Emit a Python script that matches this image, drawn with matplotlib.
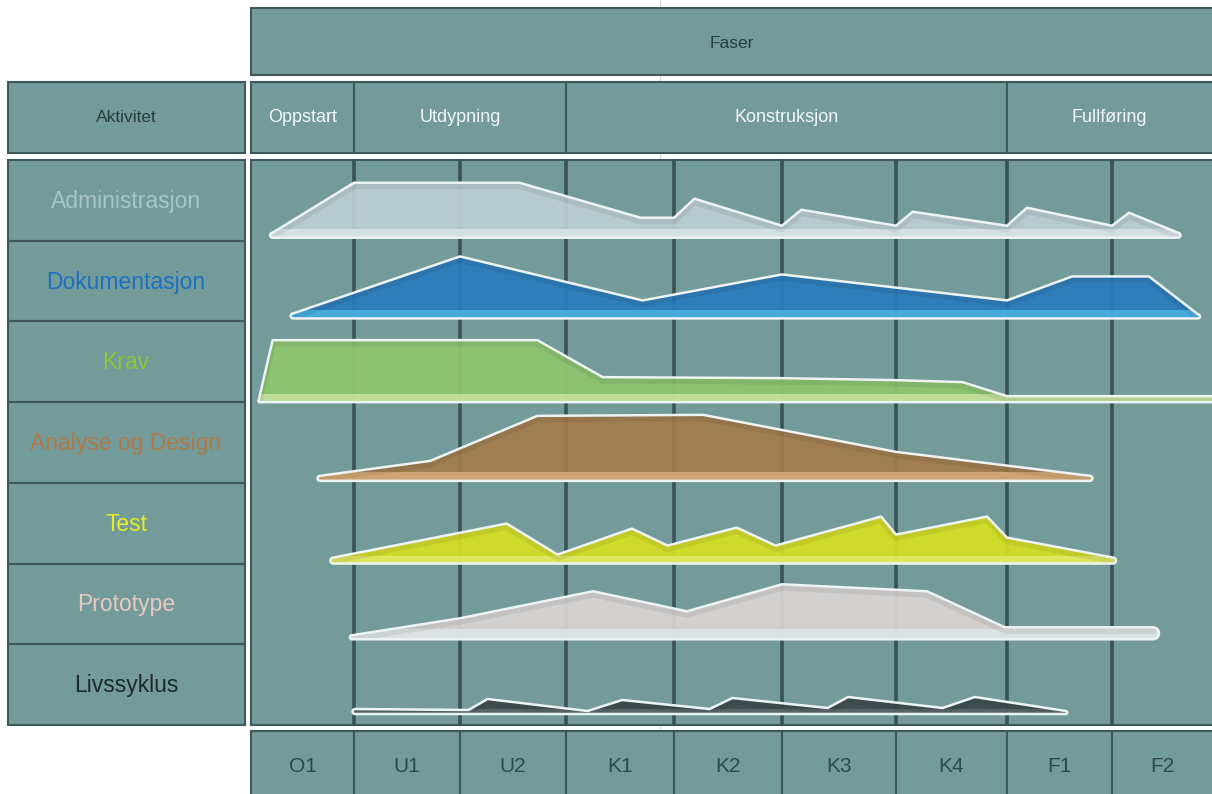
import numpy as np
import matplotlib
matplotlib.use('Agg')
import matplotlib.pyplot as plt
from matplotlib.patches import Rectangle, Polygon

plt.rcParams['font.family'] = ['Liberation Sans', 'DejaVu Sans']

# --- data -----------------------------------------------------------------
phases = ['Oppstart', 'Utdypning', 'Konstruksjon', 'Fullføring']
phase_iters = [1, 2, 4, 2]
iterations = ['O1', 'U1', 'U2', 'K1', 'K2', 'K3', 'K4', 'F1', 'F2']
activities = ['Administrasjon', 'Dokumentasjon', 'Krav', 'Analyse og Design',
              'Test', 'Prototype', 'Livssyklus']
label_colors = ['#A9C5C8', '#1D6FC1', '#8DC63F', '#AD7A48',
                '#E4EC22', '#EAC9C1', '#1E2A2A']

# hump profiles: position in iteration units, height (px above baseline)
admin_x = [0.21, 1.0, 2.56, 3.69, 4.0, 4.19, 5.0, 5.17, 6.0, 6.15, 7.0, 7.19, 8.0, 8.17, 8.66]
admin_h = [5, 55, 55, 20, 20, 39, 12, 28, 12, 26, 12, 30, 12, 25, 5]
dok_x = [0.41, 2.0, 3.71, 5.0, 7.0, 7.62, 8.37, 8.86]
dok_h = [5, 62, 18, 44, 18, 42, 42, 4]
krav_x = [0.07, 0.21, 2.73, 3.34, 5.0, 6.0, 6.6, 7.0, 9.0]
krav_h = [0, 62, 62, 25, 24, 22, 20, 6, 6]
analyse_x = [0.67, 1.72, 2.73, 4.27, 6.0, 7.79]
analyse_h = [5, 20, 65, 66, 29, 5]
test_x = [0.80, 2.44, 2.92, 3.61, 3.94, 4.58, 4.94, 5.87, 6.0, 6.82, 7.0, 8.01]
test_h = [6, 40, 9, 35, 18, 36, 18, 47, 29, 47, 26, 6]
proto_x = [0.98, 2.0, 3.25, 4.12, 5.0, 6.28, 6.98, 8.41]
proto_h = [4, 21, 48, 28, 55, 48, 12, 12]
livs_x = [1.01, 2.08, 2.26, 3.20, 3.52, 4.33, 4.54, 5.40, 5.58, 6.42, 6.71, 7.56]
livs_h = [5, 4, 15, 3, 14, 5, 16, 6, 17, 6, 17, 3]

hump_x = [admin_x, dok_x, krav_x, analyse_x, test_x, proto_x, livs_x]
hump_h = [admin_h, dok_h, krav_h, analyse_h, test_h, proto_h, livs_h]
fill_colors = ['#BCCFD3', '#2A7CBD', '#8FC76E', '#A57C4D', '#D8E022', '#DAD6D5', '#3D4B4C']
band_colors = ['#DAE5E7', '#4DB2E2', '#C8E3A2', '#D9AD7A', '#E1E868', '#DEE5E7', '#5D6A6B']

# --- layout (pixels) ------------------------------------------------------
W, H = 1212, 794
col_edges = [251, 354, 460, 566, 674, 782, 896, 1007, 1112, 1212]
row_edges = np.linspace(160, 725, len(activities) + 1)
base_offset = [3, 3, 0, 2, 0, 5, 11]
band_h = [9, 8, 8, 9, 8, 10, 5]
teal = '#729B9A'
edge = '#3F5859'
divider = '#3A5254'

fig = plt.figure(figsize=(W / 100, H / 100), dpi=100)
ax = fig.add_axes([0, 0, 1, 1])
ax.set_xlim(0, W)
ax.set_ylim(H, 0)
ax.axis('off')


def box(x0, y0, x1, y1, lw=1.5, z=1):
    ax.add_patch(Rectangle((x0, y0), x1 - x0, y1 - y0, facecolor=teal,
                           edgecolor=edge, lw=lw, zorder=z))


def to_px(x):
    return np.interp(x, np.arange(len(col_edges)), col_edges)


# faint guide line in the white gaps
ax.plot([660, 660], [0, H], color='#D9DCDC', lw=0.8, zorder=0)

# top "Faser" box
box(251, 8, 1216, 75)
ax.text(732, 43, 'Faser', ha='center', va='center', fontsize=12.5, color='#2A3D3D')

# header row
box(8, 82, 245, 153)
ax.text(126, 118, 'Aktivitet', ha='center', va='center', fontsize=12.5, color='#2A3D3D')
start = 0
for name, n in zip(phases, phase_iters):
    x0, x1 = col_edges[start], col_edges[start + n]
    box(x0, 82, x1 if x1 < W else W + 4, 153)
    ax.text((x0 + min(x1, W)) / 2, 117, name, ha='center', va='center',
            fontsize=13, color='#F3F7F7')
    start += n

# activity column
for i, (name, c) in enumerate(zip(activities, label_colors)):
    box(8, row_edges[i], 245, row_edges[i + 1])
    ax.text(126, (row_edges[i] + row_edges[i + 1]) / 2 + 1, name, ha='center',
            va='center', fontsize=16.5, color=c)

# main chart area
box(251, 160, W + 4, 725)
for xe in col_edges[1:-1]:
    ax.plot([xe, xe], [161, 724], color=divider, lw=2.6, zorder=2)

# bottom iteration row
for i, name in enumerate(iterations):
    x1 = col_edges[i + 1] if i < len(iterations) - 1 else W + 4
    box(col_edges[i], 731, x1, H + 4)
    ax.text((col_edges[i] + min(x1, W)) / 2, 767, name, ha='center', va='center',
            fontsize=15, color='#2F4A4A')

# humps
for i in range(len(activities)):
    base = row_edges[i + 1] - base_offset[i]
    xp = to_px(np.array(hump_x[i], dtype=float))
    tops = base - np.array(hump_h[i], dtype=float)
    r0 = (base - tops[0]) / 2
    r1 = (base - tops[-1]) / 2
    th0 = np.radians(np.linspace(270, 90, 14))
    th1 = np.radians(np.linspace(90, -90, 14))
    left = np.column_stack([xp[0] + r0 * np.cos(th0), base - r0 - r0 * np.sin(th0)])
    mid = np.column_stack([xp[1:-1], tops[1:-1]])
    right = np.column_stack([xp[-1] + r1 * np.cos(th1), base - r1 - r1 * np.sin(th1)])
    pts = np.vstack([left, mid, right])

    poly = Polygon(pts, closed=True, facecolor=fill_colors[i], edgecolor='none',
                   alpha=0.93, zorder=3)
    ax.add_patch(poly)
    band = Rectangle((xp[0] - r0 - 3, base - band_h[i]), xp[-1] - xp[0] + r0 + r1 + 6,
                     band_h[i] + 2, facecolor=band_colors[i], edgecolor='none',
                     alpha=0.85, zorder=4)
    ax.add_patch(band)
    band.set_clip_path(poly)
    # bevel shadow just under the top edge
    shade, = ax.plot(xp, tops + 3, color='black', alpha=0.07, lw=5,
                     solid_joinstyle='round', zorder=4)
    shade.set_clip_path(poly)
    outline = Polygon(pts, closed=True, facecolor='none', edgecolor='#EEF3F3',
                      lw=1.8, joinstyle='round', zorder=5)
    ax.add_patch(outline)

fig.savefig('out.png', dpi=100)
